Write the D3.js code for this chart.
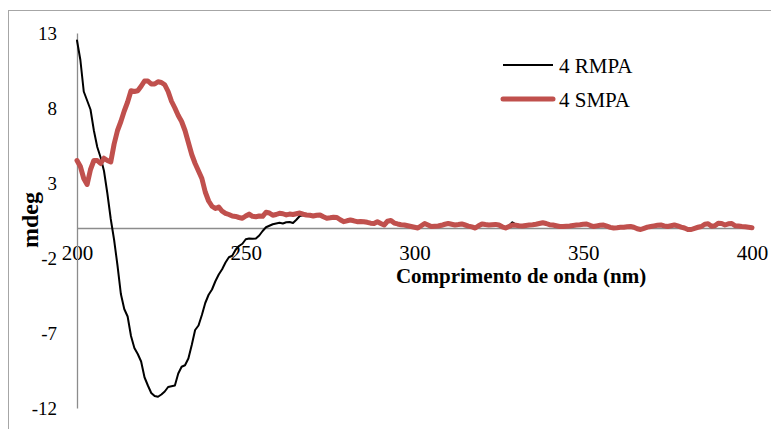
<!DOCTYPE html>
<html>
<head>
<meta charset="utf-8">
<script src="https://cdn.jsdelivr.net/npm/d3@7/dist/d3.min.js"></script>
<style>
  html, body { margin: 0; padding: 0; background: #fff; }
  svg { display: block; }
</style>
</head>
<body>
<svg id="chart" width="771" height="429"></svg>
<script>
// CD spectra, 200–400 nm at 1 nm steps (mdeg)
const wavelengthStart = 200;
const wavelengthEnd = 400;

const rmpa = [
  12.5, 11.2, 9.1, 8.5, 7.9, 6.5, 5.4, 4.7, 3.8, 2.3,            // 200
  0.6, -0.8, -2.5, -4.4, -5.4, -5.9, -7.2, -8.0, -8.4, -8.9,     // 210
  -9.95, -10.5, -11.0, -11.2, -11.25, -11.1, -10.9, -10.6, -10.55, -10.5, // 220
  -9.7, -9.25, -9.15, -8.7, -7.8, -6.8, -6.5, -5.8, -5.0, -4.45, // 230
  -4.1, -3.55, -3.1, -2.75, -2.3, -1.95, -1.85, -1.45, -1.2, -1.05, // 240
  -0.75, -0.7, -0.72, -0.7, -0.5, -0.2, 0.05, 0.15, 0.25, 0.3,   // 250
  0.35, 0.3, 0.38, 0.4, 0.33, 0.55, 0.8, 0.85, 0.85, 0.88,       // 260
  0.82, 0.85, 0.9, 0.78, 0.66, 0.7, 0.75, 0.68, 0.56, 0.45,      // 270
  0.5, 0.55, 0.5, 0.45, 0.42, 0.45, 0.4, 0.35, 0.33, 0.45,       // 280
  0.33, 0.22, 0.45, 0.48, 0.35, 0.3, 0.25, 0.22, 0.18, 0.12,     // 290
  0.08, 0.02, 0.18, 0.3, 0.22, 0.12, 0.14, 0.16, 0.2, 0.27,      // 300
  0.32, 0.27, 0.22, 0.25, 0.3, 0.22, 0.15, 0.1, 0.02, 0.17,      // 310
  0.28, 0.25, 0.22, 0.25, 0.27, 0.22, 0.1, 0.02, 0.15, 0.38,     // 320
  0.25, 0.16, 0.15, 0.19, 0.22, 0.25, 0.27, 0.32, 0.37, 0.32,    // 330
  0.24, 0.22, 0.17, 0.12, 0.12, 0.14, 0.15, 0.19, 0.22, 0.24,    // 340
  0.27, 0.28, 0.2, 0.12, 0.16, 0.2, 0.22, 0.14, 0.06, 0.02,      // 350
  0.04, 0.07, 0.07, 0.1, 0.12, 0.07, -0.03, -0.08, 0.0, 0.08,    // 360
  0.12, 0.16, 0.2, 0.22, 0.16, 0.12, 0.17, 0.22, 0.16, 0.08,     // 370
  0.02, -0.08, -0.08, 0.0, 0.07, 0.12, 0.27, 0.3, 0.14, 0.17,    // 380
  0.34, 0.32, 0.22, 0.3, 0.32, 0.17, 0.15, 0.12, 0.1, 0.07,      // 390
  0.04                                                           // 400
];

const smpa = [
  4.5, 4.1, 3.3, 2.9, 3.9, 4.5, 4.5, 4.3, 4.65, 4.5,             // 200
  4.4, 5.6, 6.5, 7.1, 7.8, 8.4, 9.15, 9.1, 9.15, 9.45,           // 210
  9.8, 9.8, 9.6, 9.6, 9.75, 9.7, 9.55, 9.1, 8.45, 8.0,           // 220
  7.5, 7.1, 6.5, 5.7, 4.9, 4.3, 3.8, 3.3, 2.4, 1.8,              // 230
  1.45, 1.3, 1.4, 1.12, 0.98, 0.9, 0.8, 0.77, 0.7, 0.65,         // 240
  0.8, 0.93, 0.78, 0.75, 0.8, 0.78, 1.05, 1.0, 0.85, 0.9,        // 250
  0.98, 0.95, 0.87, 0.93, 0.9, 0.95, 1.0, 0.92, 0.87, 0.85,      // 260
  0.8, 0.85, 0.87, 0.75, 0.65, 0.68, 0.72, 0.7, 0.55, 0.42,      // 270
  0.48, 0.53, 0.48, 0.42, 0.44, 0.42, 0.38, 0.32, 0.3, 0.42,     // 280
  0.3, 0.2, 0.45, 0.5, 0.33, 0.27, 0.22, 0.2, 0.15, 0.1,         // 290
  0.05, 0.0, 0.15, 0.3, 0.2, 0.1, 0.12, 0.13, 0.18, 0.25,        // 300
  0.3, 0.25, 0.2, 0.23, 0.27, 0.2, 0.13, 0.07, 0.0, 0.15,        // 310
  0.27, 0.23, 0.2, 0.22, 0.24, 0.2, 0.08, 0.0, 0.1, 0.2,         // 320
  0.18, 0.15, 0.13, 0.17, 0.2, 0.22, 0.25, 0.3, 0.35, 0.3,       // 330
  0.22, 0.2, 0.15, 0.1, 0.1, 0.12, 0.13, 0.17, 0.2, 0.22,        // 340
  0.25, 0.27, 0.18, 0.1, 0.14, 0.18, 0.2, 0.12, 0.04, 0.0,       // 350
  0.02, 0.05, 0.05, 0.08, 0.1, 0.05, -0.05, -0.1, -0.02, 0.06,   // 360
  0.1, 0.14, 0.18, 0.2, 0.14, 0.1, 0.15, 0.2, 0.14, 0.06,        // 370
  0.0, -0.1, -0.1, -0.02, 0.05, 0.1, 0.25, 0.28, 0.12, 0.15,     // 380
  0.32, 0.3, 0.2, 0.28, 0.3, 0.15, 0.13, 0.1, 0.08, 0.05,        // 390
  0.02                                                           // 400
];

const xTicks = [200, 250, 300, 350, 400];
const yTicks = [-12, -7, -2, 3, 8, 13];
const seriesNames = ["4 RMPA", "4 SMPA"];
const seriesColors = ["#000000", "#C0504D"];
const seriesWidths = [2, 5];

const serif = "'Liberation Serif', 'Times New Roman', 'DejaVu Serif', serif";
const axisGray = "#8c8c8c";
const plainNumber = d => String(d);   // ASCII hyphen for negatives

const svg = d3.select("#chart");

// outer chart frame
svg.append("rect")
  .attr("x", 8.5).attr("y", 10.5)
  .attr("width", 900).attr("height", 600)
  .attr("fill", "none").attr("stroke", "#a6a6a6").attr("stroke-width", 1);

const x = d3.scaleLinear().domain([200, 400]).range([77, 752]);
const y = d3.scaleLinear().domain([-12, 13]).range([408, 33]);

// horizontal axis through zero
const xAxis = svg.append("g")
  .attr("transform", `translate(0,${y(0)})`)
  .call(d3.axisBottom(x).tickValues(xTicks).tickSize(0).tickPadding(17).tickFormat(plainNumber));
xAxis.select(".domain").attr("stroke", axisGray).attr("stroke-width", 1.3);
xAxis.selectAll("text").attr("font-family", serif).attr("font-size", 21).attr("fill", "#000");

// vertical axis
const yAxis = svg.append("g")
  .attr("transform", `translate(${x(200)},0)`)
  .call(d3.axisLeft(y).tickValues(yTicks).tickSize(0).tickPadding(20).tickFormat(plainNumber));
yAxis.select(".domain").attr("stroke", axisGray).attr("stroke-width", 1.3);
yAxis.selectAll("text").attr("font-family", serif).attr("font-size", 19).attr("fill", "#000");

// spectra
const line = d3.line()
  .x((d, i) => x(wavelengthStart + i))
  .y(d => y(d));

[rmpa, smpa].forEach((vals, k) => {
  svg.append("path")
    .datum(vals)
    .attr("d", line)
    .attr("fill", "none")
    .attr("stroke", seriesColors[k])
    .attr("stroke-width", seriesWidths[k])
    .attr("stroke-linejoin", "round")
    .attr("stroke-linecap", "round");
});

// axis titles
svg.append("text")
  .attr("x", 521).attr("y", 283)
  .attr("text-anchor", "middle")
  .attr("font-family", serif).attr("font-weight", "bold").attr("font-size", 21)
  .text("Comprimento de onda (nm)");

svg.append("text")
  .attr("transform", "translate(38,220) rotate(-90)")
  .attr("text-anchor", "middle")
  .attr("font-family", serif).attr("font-weight", "bold").attr("font-size", 24)
  .text("mdeg");

// legend
const legend = svg.append("g");
const legendY = [65, 99];
seriesNames.forEach((name, k) => {
  legend.append("line")
    .attr("x1", 503).attr("x2", 553)
    .attr("y1", legendY[k]).attr("y2", legendY[k])
    .attr("stroke", seriesColors[k])
    .attr("stroke-width", seriesWidths[k])
    .attr("stroke-linecap", k === 1 ? "round" : "butt");
  legend.append("text")
    .attr("x", 559).attr("y", legendY[k] + 8)
    .attr("font-family", serif).attr("font-size", 21)
    .text(name);
});
</script>
</body>
</html>
